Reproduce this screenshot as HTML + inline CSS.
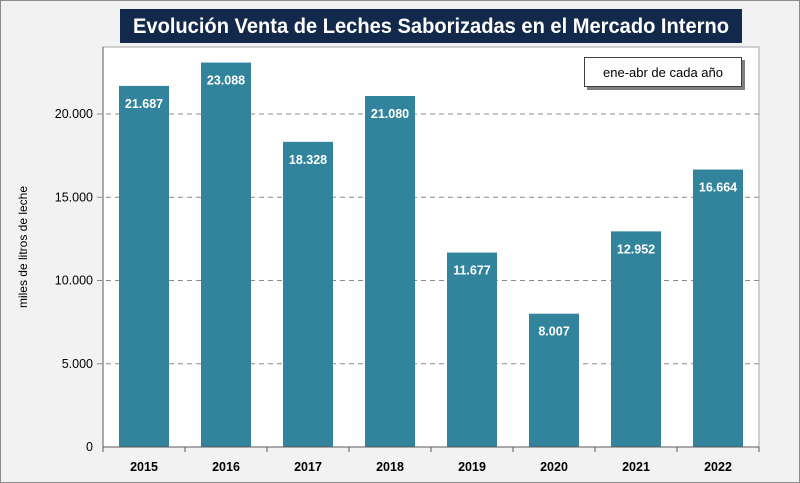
<!DOCTYPE html>
<html><head><meta charset="utf-8"><style>
body{margin:0;background:#fff}
svg{display:block;font-family:"Liberation Sans",sans-serif}
</style></head><body>
<svg id="c" width="800" height="483" viewBox="0 0 800 483">
<rect x="0.5" y="0.5" width="799" height="482" fill="#f2f2f2" stroke="#8c8c8c"/>
<rect x="103" y="47" width="656" height="400" fill="#fff" stroke="#a6a6a6"/>
<g id="grid"></g><g id="bars"></g><g id="axes"></g>
<rect x="120" y="9" width="622" height="34" fill="#13294b"/>
<text x="431" y="33" text-anchor="middle" fill="#fff" font-weight="bold" font-size="21" textLength="596" lengthAdjust="spacingAndGlyphs">Evolución Venta de Leches Saborizadas en el Mercado Interno</text>
<rect x="587" y="60" width="158" height="30" fill="#7f7f7f"/>
<rect x="584.5" y="57.5" width="157" height="29" fill="#fff" stroke="#404040"/>
<text x="663" y="77" text-anchor="middle" font-size="13" fill="#000">ene-abr de cada año</text>
<text transform="translate(27,247) rotate(-90)" text-anchor="middle" font-size="12" fill="#000">miles de litros de leche</text>
</svg>
<script>
const categories=["2015","2016","2017","2018","2019","2020","2021","2022"];
const values=[21687,23088,18328,21080,11677,8007,12952,16664];
const labels=["21.687","23.088","18.328","21.080","11.677","8.007","12.952","16.664"];
const ticks=[0,5000,10000,15000,20000];
const tickLabels=["0","5.000","10.000","15.000","20.000"];
const NS="http://www.w3.org/2000/svg";
const x0=103,x1=759,yb=447,k=333/20000;
const bw=(x1-x0)/categories.length;
const y=v=>yb-v*k;
const xc=i=>x0+bw*(i+0.5);
function mk(t,a,p){const e=document.createElementNS(NS,t);for(const q in a)e.setAttribute(q,a[q]);p.appendChild(e);return e;}
const G=document.getElementById('grid'),B=document.getElementById('bars'),A=document.getElementById('axes');
ticks.forEach((t,i)=>{
 if(t>0){const l=mk('line',{x1:x0-6,x2:x1,y1:y(t),y2:y(t),stroke:'#8c8c8c','stroke-dasharray':'5,4'},G);
 
 }
 const tx=mk('text',{x:x0-10,y:y(t)+4,'text-anchor':'end','font-size':'12.5',fill:'#000'},A);
 tx.textContent=tickLabels[i];
 
 
});
values.forEach((v,i)=>{
 const r=mk('rect',{x:xc(i)-25,y:y(v),width:50,height:v*k,fill:'#31849b'},B);
 
 
 const t=mk('text',{x:xc(i),y:y(v)+22,'text-anchor':'middle','font-size':'12.5','font-weight':'bold',fill:'#fff'},B);
 t.textContent=labels[i];
 
 
 const c=mk('text',{x:xc(i),y:yb+24,'text-anchor':'middle','font-size':'12.5','font-weight':'bold',fill:'#000'},A);
 c.textContent=categories[i];
 
 
});
for(let i=0;i<=categories.length;i++){
 const l=mk('line',{x1:x0+bw*i,x2:x0+bw*i,y1:yb,y2:yb+5,stroke:'#595959'},A);
 
 
}
const ax=mk('line',{x1:x0,x2:x1,y1:yb,y2:yb,stroke:'#595959'},A);


const ay=mk('line',{x1:x0,x2:x0,y1:47,y2:yb,stroke:'#595959'},A);


</script>
</body></html>
